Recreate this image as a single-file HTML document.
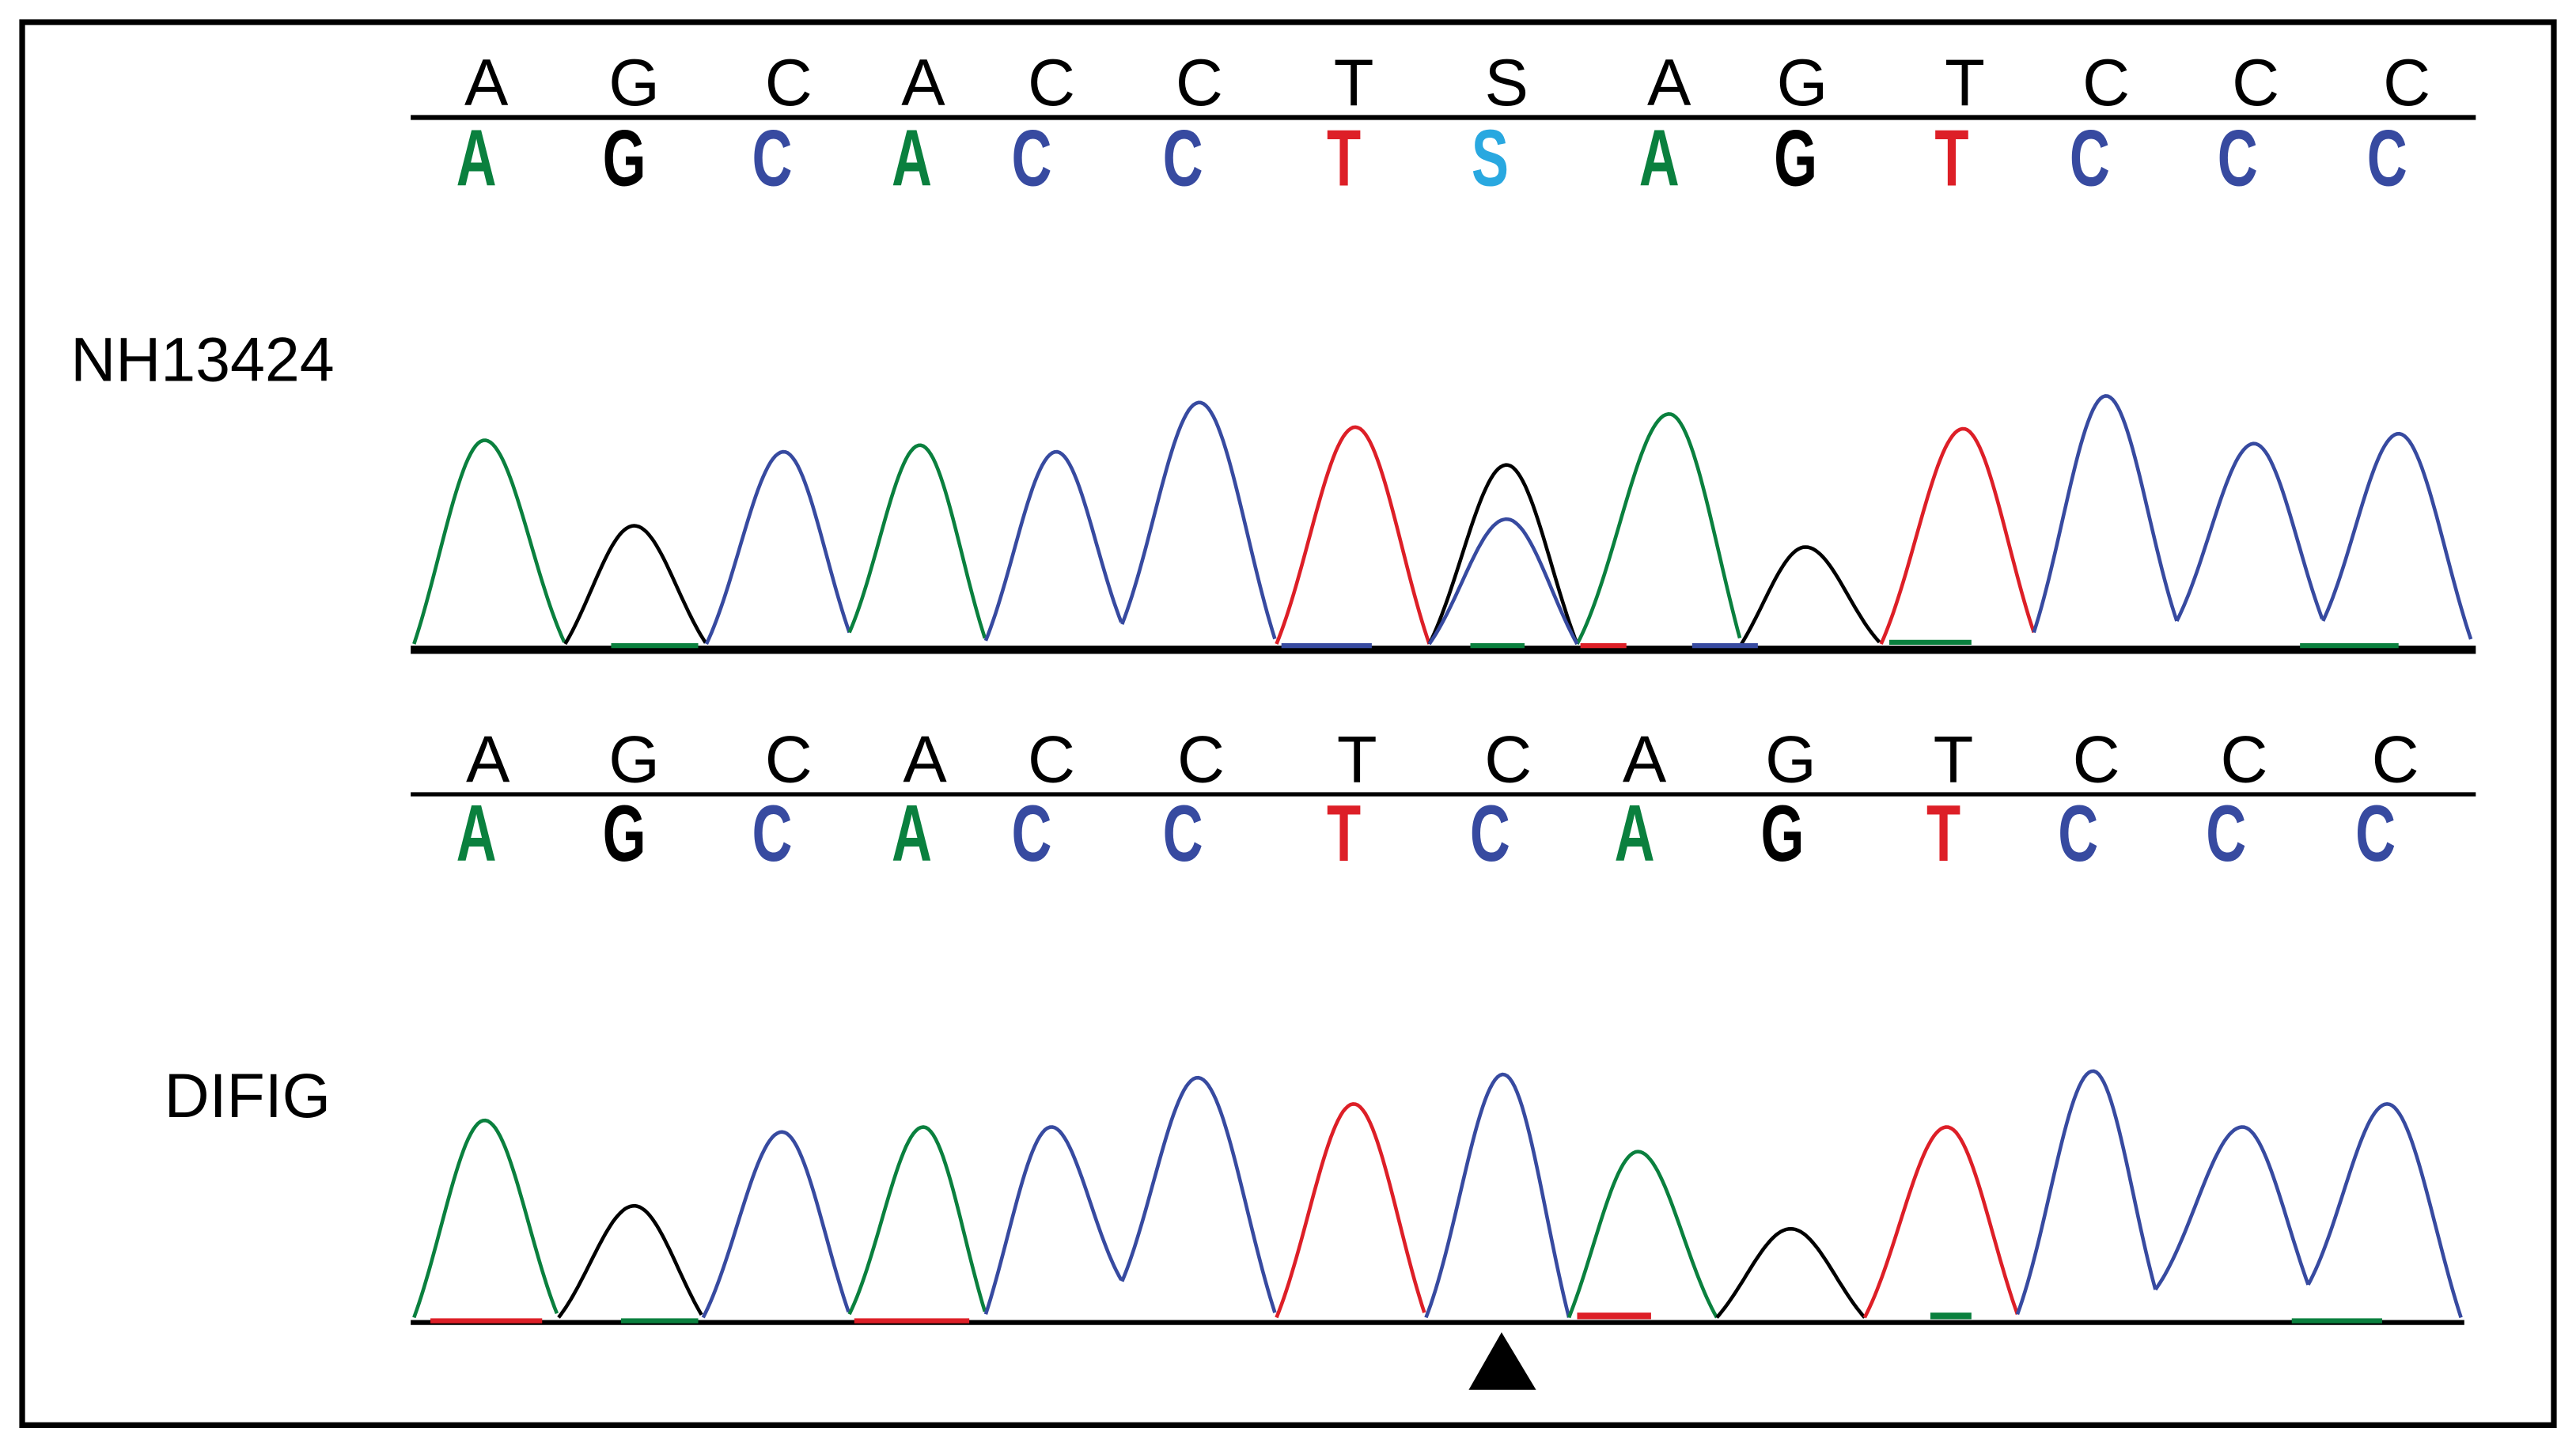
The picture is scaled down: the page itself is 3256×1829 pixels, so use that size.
<!DOCTYPE html>
<html><head><meta charset="utf-8"><style>
html,body{margin:0;padding:0;background:#fff;}
svg{display:block;}
</style></head><body>
<svg id="s" width="3256" height="1829" viewBox="0 0 1568 880.8" preserveAspectRatio="none" xmlns="http://www.w3.org/2000/svg">
<rect x="0" y="0" width="1568" height="881" fill="#fff"/>
<rect x="13.5" y="13.5" width="1541" height="854" fill="none" stroke="#000" stroke-width="3.5"/>
<g font-family="Liberation Sans, sans-serif" font-size="38" fill="#000">
<text x="43" y="232">NH13424</text>
<text x="100" y="680">DIFIG</text>
</g>
<line x1="250" y1="71.5" x2="1507" y2="71.5" stroke="#000" stroke-width="3"/>
<line x1="250" y1="483.5" x2="1507" y2="483.5" stroke="#000" stroke-width="2.5"/>
<g id="txt" font-family="Liberation Sans, sans-serif"></g>
<g id="tr" fill="none" stroke-width="2.2" stroke-linejoin="round"></g>
<line x1="250" y1="395.5" x2="1507" y2="395.5" stroke="#000" stroke-width="5"/>
<line x1="250" y1="805" x2="1500" y2="805" stroke="#000" stroke-width="3"/>
<polygon points="914,811 894,846 935,846" fill="#000"/>
</svg>
<script>
var C={A:'#0a803e',G:'#000',C:'#374aa0',T:'#dd1f27',S:'#29a8e0'};
var ns='http://www.w3.org/2000/svg';
var txt=document.getElementById('txt'),tr=document.getElementById('tr');
function t(x,y,s,size,fill,bold){var e=document.createElementNS(ns,'text');e.setAttribute('x',x);e.setAttribute('y',y);e.setAttribute('text-anchor','middle');e.setAttribute('font-size',size);e.setAttribute('fill',fill);if(bold){e.setAttribute('font-weight','bold');e.setAttribute('transform','translate('+x+','+y+') scale(0.85,1.22) translate('+(-x)+','+(-y)+')');}e.textContent=s;txt.appendChild(e);}
var s1='AGCACCTSAGTCCC',s2='AGCACCTCAGTCCC';
var h1=[296,386,480,562,640,730,824,917,1016,1097,1196,1282,1373,1465];
var c1=[290,380,470,555,628,720,818,907,1010,1093,1188,1272,1362,1453];
var h2=[297,386,480,563,640,731,826,918,1001,1090,1189,1276,1366,1458];
var c2=[290,380,470,555,628,720,818,907,995,1085,1183,1265,1355,1446];
for(var i=0;i<14;i++){
 t(h1[i],64,s1[i],40,'#000',false);t(c1[i],113,s1[i],40,C[s1[i]],true);
 t(h2[i],476,s2[i],40,'#000',false);t(c2[i],524,s2[i],40,C[s2[i]],true);
}
function peak(x0,y0,x1,y1,px,py,col){
 var sg=(x1-x0)/3.3,d='';
 var e0=Math.exp(-Math.pow(x0-px,2)/(2*sg*sg)),e1=Math.exp(-Math.pow(x1-px,2)/(2*sg*sg));
 for(var x=x0;x<=x1+0.01;x+=1.5){
  var g=Math.exp(-Math.pow(x-px,2)/(2*sg*sg));
  var e=x<px?e0:e1;var f=(g-e)/(1-e);if(f<0)f=0;
  var base=y0+(y1-y0)*(x-x0)/(x1-x0);
  var y=base-(base-py)*f;
  d+=(d?'L':'M')+x.toFixed(1)+' '+y.toFixed(1);
 }
 var p=document.createElementNS(ns,'path');p.setAttribute('d',d);p.setAttribute('stroke',col);tr.appendChild(p);
}
var v1=[252,344,430,517,600,683,777,870,960,1060,1145,1238,1325,1414,1505];
var vy1=[392,392,392,385,390,380,392,392,392,392,392,385,378,378,392];
var p1=[[295,268],[386,320],[477,275],[560,271],[643,275],[730,245],[825,260],[917,283],[1016,252],[1099,333],[1195,261],[1282,241],[1372,270],[1460,264]];
var col1='AGCACCTGAGTCCC';
for(var i=0;i<14;i++){peak(v1[i],vy1[i],v1[i+1],vy1[i+1],p1[i][0],p1[i][1],C[col1[i]]);}
peak(870,392,960,392,917,316,C.C);
var v2=[252,340,428,517,600,683,777,868,955,1045,1135,1228,1312,1405,1498];
var vy2=[802,802,802,800,800,780,802,802,802,802,802,800,785,782,802];
var p2=[[295,682],[386,734],[476,689],[562,686],[640,686],[729,656],[824,672],[915,654],[997,701],[1090,748],[1185,686],[1274,652],[1365,686],[1453,672]];
var col2='AGCACCTCAGTCCC';
for(var i=0;i<14;i++){peak(v2[i],vy2[i],v2[i+1],vy2[i+1],p2[i][0],p2[i][1],C[col2[i]]);}
function seg(x0,x1,y,col,w){var l=document.createElementNS(ns,'line');l.setAttribute('x1',x0);l.setAttribute('x2',x1);l.setAttribute('y1',y);l.setAttribute('y2',y);l.setAttribute('stroke',col);l.setAttribute('stroke-width',w);document.getElementById('s').appendChild(l);}
window.addEventListener('load',function(){
 seg(372,425,393,C.A,3);seg(780,835,393,C.C,3);seg(895,928,393,C.A,3);seg(962,990,393,C.T,3);seg(1030,1070,393,C.C,3);seg(1150,1200,391,C.A,3);seg(1400,1460,393,C.A,3);
 seg(262,330,804,C.T,3);seg(378,425,804,C.A,3);seg(520,590,804,C.T,3);seg(960,1005,801,C.T,4);seg(1175,1200,801,C.A,4);seg(1395,1450,804,C.A,3);
});
</script>
</body></html>
